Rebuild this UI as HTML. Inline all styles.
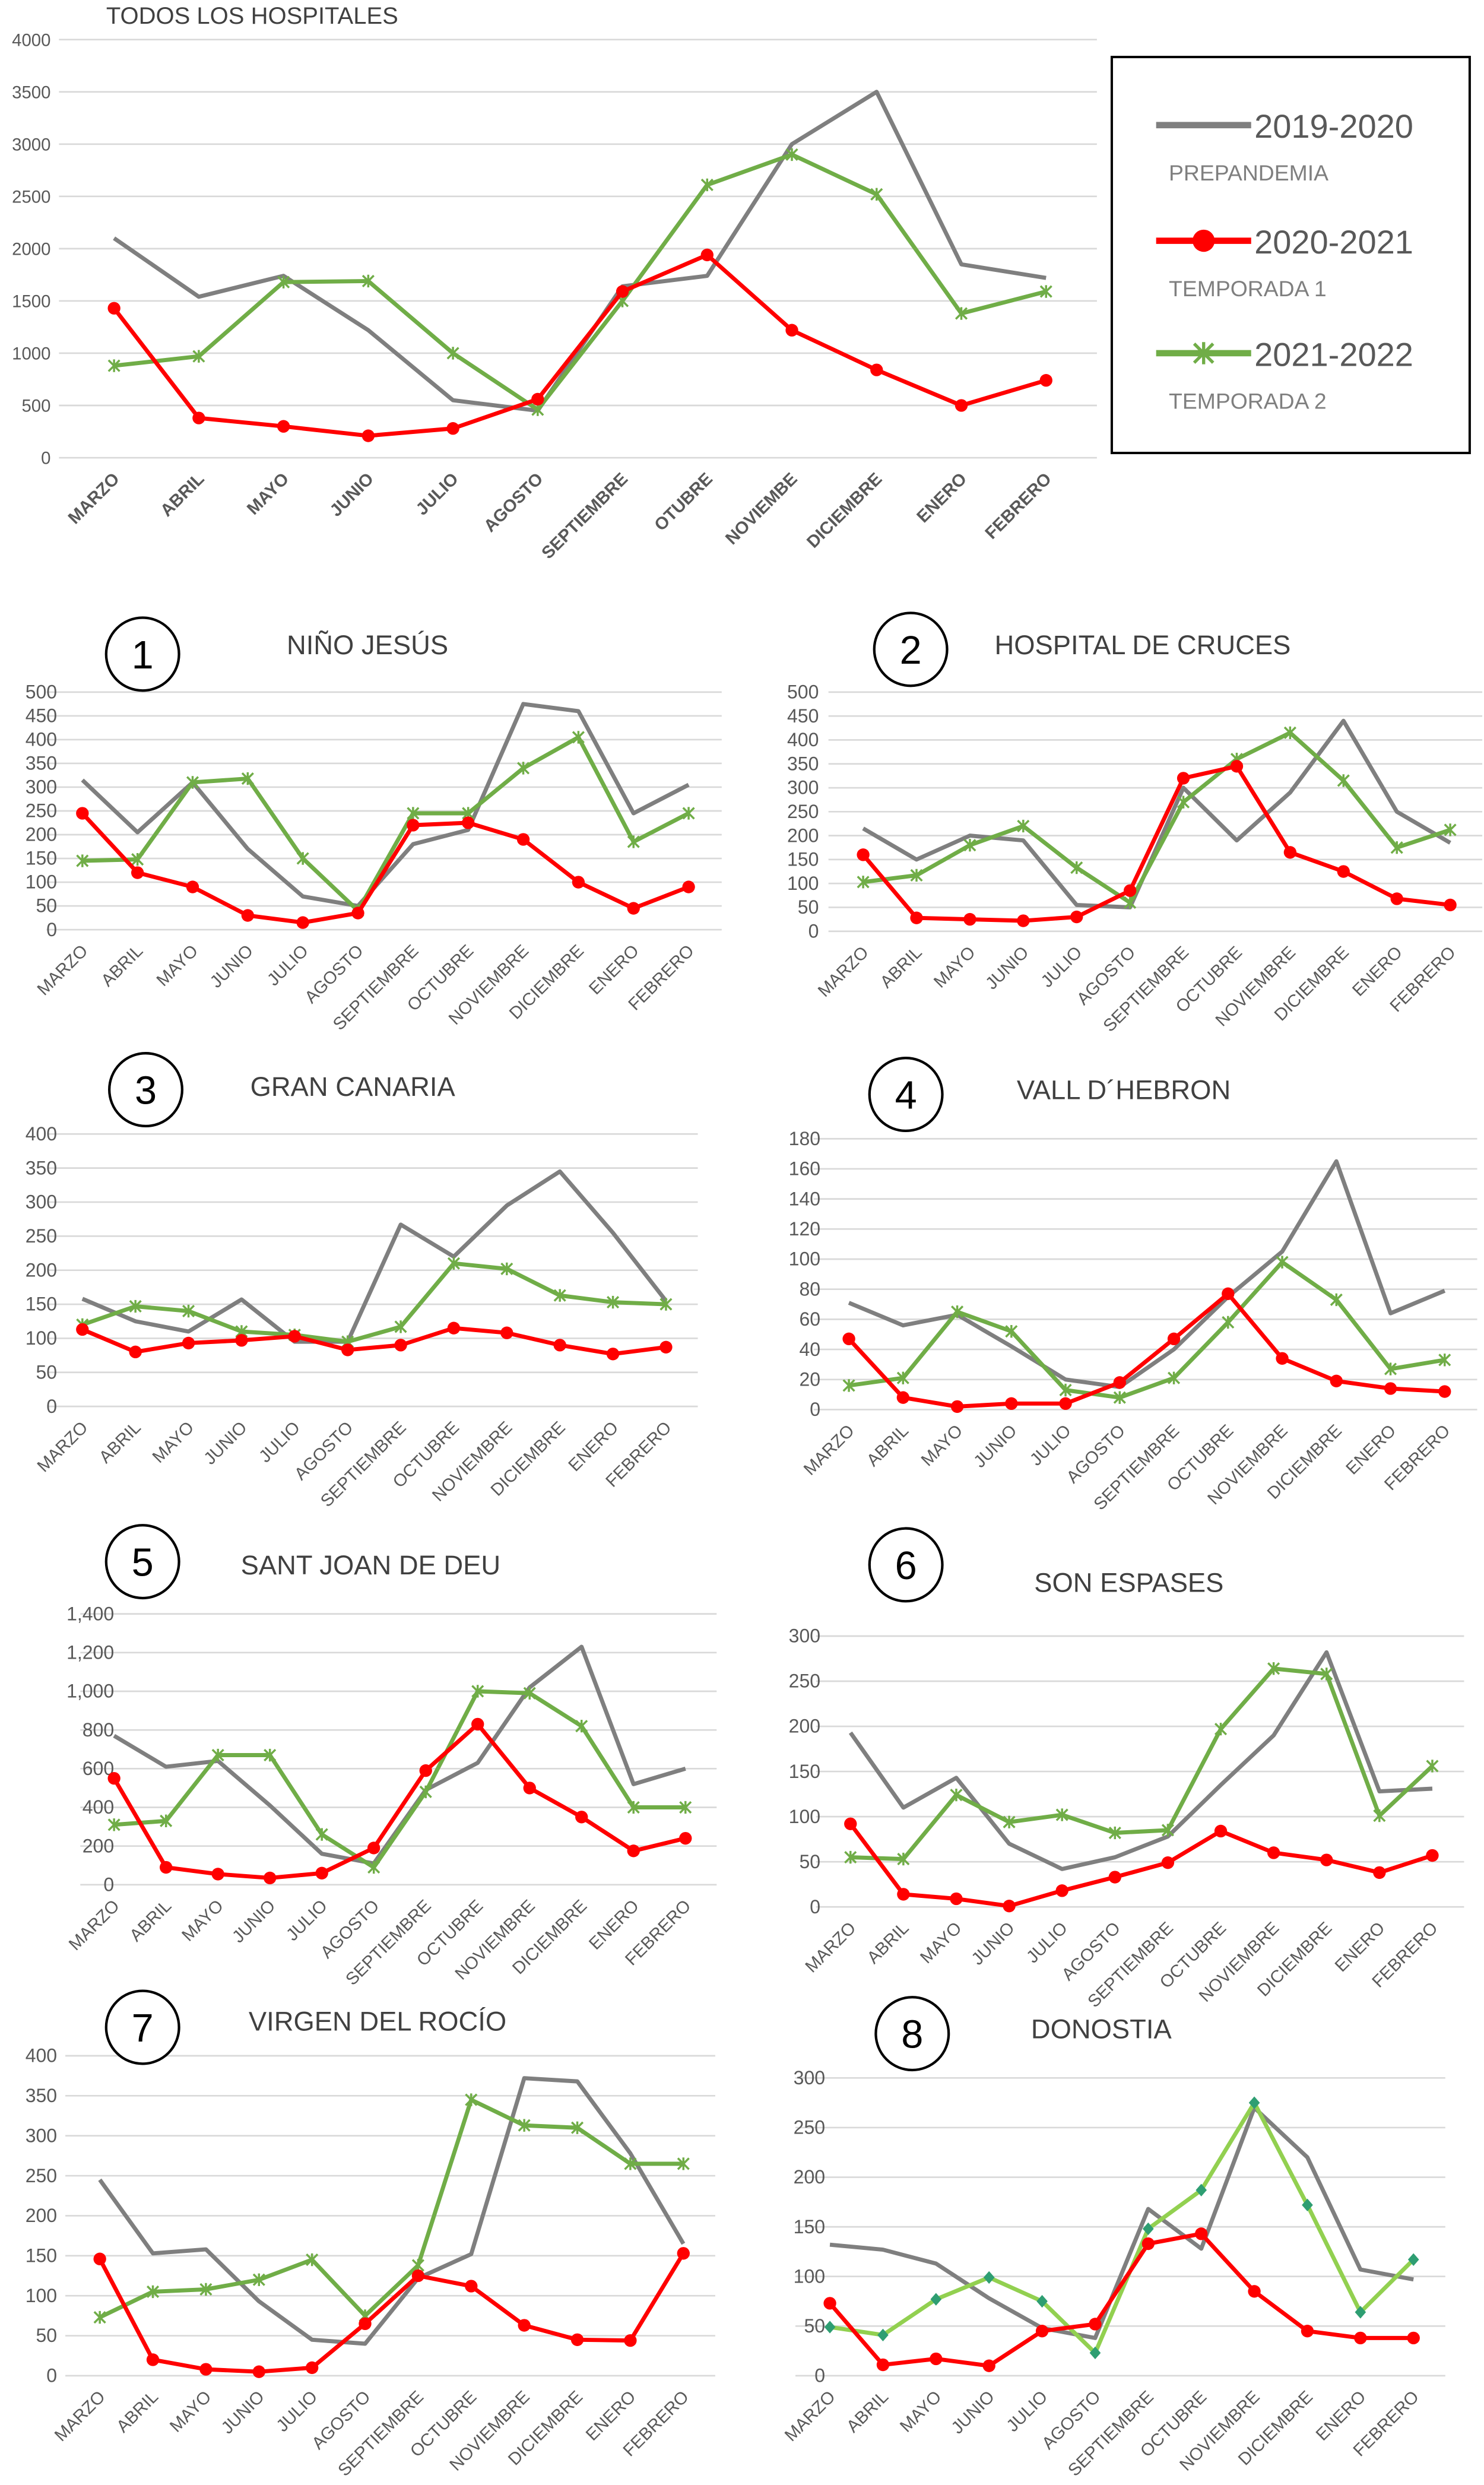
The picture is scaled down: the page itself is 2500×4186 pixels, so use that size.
<!DOCTYPE html>
<html><head><meta charset="utf-8"><style>
html,body{margin:0;padding:0;background:#fff}
svg{display:block}
text{font-family:"Liberation Sans",sans-serif}
</style></head><body>
<svg id="root" width="2500" height="4186" viewBox="0 0 937 1569" xmlns="http://www.w3.org/2000/svg"></svg>
<script>
const months=["MARZO","ABRIL","MAYO","JUNIO","JULIO","AGOSTO","SEPTIEMBRE","OTUBRE","NOVIEMBE","DICIEMBRE","ENERO","FEBRERO"];
const months2=["MARZO","ABRIL","MAYO","JUNIO","JULIO","AGOSTO","SEPTIEMBRE","OCTUBRE","NOVIEMBRE","DICIEMBRE","ENERO","FEBRERO"];
const mainGray=[2100,1540,1740,1220,550,450,1640,1740,3000,3500,1850,1720];
const mainRed=[1430,380,300,210,280,560,1590,1940,1220,840,500,740];
const mainGreen=[880,970,1680,1690,1000,460,1500,2610,2900,2520,1380,1590];
const c1Gray=[315,205,310,170,70,50,180,210,475,460,245,305];
const c1Red=[245,120,90,30,15,35,220,225,190,100,45,90];
const c1Green=[145,148,310,318,150,40,245,245,340,405,185,245];
const c2Gray=[215,150,200,190,55,50,300,190,290,440,250,185];
const c2Red=[160,28,25,22,30,85,320,345,165,125,68,55];
const c2Green=[103,117,180,220,133,60,270,360,415,315,175,212];
const c3Gray=[158,125,110,157,95,95,267,220,295,345,255,155];
const c3Red=[113,80,93,97,103,83,90,115,108,90,77,87];
const c3Green=[120,147,140,110,105,95,117,210,202,163,153,150];
const c4Gray=[71,56,63,42,20,15,40,75,105,165,64,79];
const c4Red=[47,8,2,4,4,18,47,77,34,19,14,12];
const c4Green=[16,21,65,52,13,8,21,58,98,73,27,33];
const c5Gray=[770,610,640,410,160,110,490,630,1020,1230,520,600];
const c5Red=[550,90,55,35,60,190,590,830,500,350,175,240];
const c5Green=[310,330,670,670,260,90,480,1000,990,820,400,400];
const c6Gray=[193,110,143,70,42,55,78,135,190,282,128,131];
const c6Red=[92,14,9,1,18,33,49,84,60,52,38,57];
const c6Green=[55,53,124,94,102,82,85,197,264,258,101,156];
const c7Gray=[245,153,158,93,45,40,122,152,372,368,278,165];
const c7Red=[146,20,8,5,10,65,125,112,63,45,44,153];
const c7Green=[73,105,108,120,145,75,138,345,313,310,265,265];
const c8Gray=[132,127,113,78,48,38,168,128,270,220,107,97];
const c8Red=[73,11,17,10,45,52,133,143,85,45,38,38];
const c8Green=[49,41,77,99,75,23,148,187,275,172,64,117];

const NS="http://www.w3.org/2000/svg";
const root=document.getElementById('root');
function mk(tag,attrs,parent){const e=document.createElementNS(NS,tag);for(const k in attrs)e.setAttribute(k,attrs[k]);(parent||root).appendChild(e);return e;}

function chart(o){
  const g=mk('g',{});
  
  
  const X=i=>o.x0+i*o.dx;
  const Y=v=>o.yb-(v/o.max)*(o.yb-o.yt);
  const gl=o.x0-o.dx*0.65, gr=X(11)+o.dx*0.6;
  for(let v=0;v<=o.max+1e-9;v+=o.step){
    const ln=mk('line',{x1:gl,x2:gr,y1:Y(v),y2:Y(v),stroke:'#d9d9d9','stroke-width':1},g);
    
    
    const t=mk('text',{x:o.lx,y:Y(v)+4,'text-anchor':'end','font-size':o.fs,fill:'#595959'},g);
    t.textContent=o.fmt?o.fmt(v):String(v);
    
    
  }
  o.cats.forEach((c,i)=>{
    const x=X(i)+4,y=o.yb+14;
    const t=mk('text',{x:x,y:y,'text-anchor':'end','font-size':o.cfs,fill:'#595959','font-weight':o.bold?'bold':'normal',transform:`rotate(-45 ${x} ${y})`},g);
    t.textContent=c;
    
    
  });
  const series=[[o.gray,'#7f7f7f','none','series-2019-2020'],[o.green,o.gcol||'#70ad47',o.gm||'star','series-2021-2022'],[o.red,'#ff0000','circle','series-2020-2021']];
  series.forEach(s=>{
    const pts=s[0].map((v,i)=>X(i)+','+Y(v)).join(' ');
    const pl=mk('polyline',{points:pts,fill:'none',stroke:s[1],'stroke-width':2.6,'stroke-linejoin':'round'},g);
    
    
    s[0].forEach((v,i)=>{
      const x=X(i),y=Y(v);
      if(s[2]==='circle'){
        const m=mk('circle',{cx:x,cy:y,r:4,fill:'#ff0000'},g);
        
        
      }else if(s[2]==='star'){
        const m=mk('path',{d:`M${x-3.5} ${y-3.5}L${x+3.5} ${y+3.5}M${x-3.5} ${y+3.5}L${x+3.5} ${y-3.5}M${x} ${y-4}L${x} ${y+4}`,stroke:s[1],'stroke-width':1.3},g);
        
        
      }else if(s[2]==='diamond'){
        const m=mk('path',{d:`M${x} ${y-4}L${x+3.5} ${y}L${x} ${y+4}L${x-3.5} ${y}Z`,fill:'#2e9e72'},g);
        
        
      }
    });
  });
  if(o.num){
    const c=mk('ellipse',{cx:o.cx,cy:o.cy,rx:23,ry:23,fill:'#fff',stroke:'#000','stroke-width':1.6},g);
    
    
    const n=mk('text',{x:o.cx,y:o.cy+9,'text-anchor':'middle','font-size':25,fill:'#000'},g);
    n.textContent=o.num;
    
    
  }
  const tt=mk('text',{x:o.tx,y:o.ty,'font-size':o.tfs||17,fill:'#404040'},g);
  tt.textContent=o.title;
  
  
}

chart({name:'all-hospitals-chart',cats:months,x0:72,dx:53.5,yb:289,yt:25,max:4000,step:500,lx:32,fs:11,cfs:11,bold:true,gray:mainGray,red:mainRed,green:mainGreen,title:'TODOS LOS HOSPITALES',tx:67,ty:15,tfs:15});
chart({name:'nino-jesus-chart',cats:months2,x0:52,dx:34.8,yb:587,yt:437,max:500,step:50,lx:36,fs:12,cfs:11,gray:c1Gray,red:c1Red,green:c1Green,num:'1',cx:90,cy:413,title:'NIÑO JESÚS',tx:181,ty:413});
chart({name:'cruces-chart',cats:months2,x0:545,dx:33.7,yb:588,yt:437,max:500,step:50,lx:517,fs:12,cfs:11,gray:c2Gray,red:c2Red,green:c2Green,num:'2',cx:575,cy:410,title:'HOSPITAL DE CRUCES',tx:628,ty:413});
chart({name:'gran-canaria-chart',cats:months2,x0:52,dx:33.5,yb:888,yt:716,max:400,step:50,lx:36,fs:12,cfs:11,gray:c3Gray,red:c3Red,green:c3Green,num:'3',cx:92,cy:688,title:'GRAN CANARIA',tx:158,ty:692});
chart({name:'vall-hebron-chart',cats:months2,x0:536,dx:34.2,yb:890,yt:719,max:180,step:20,lx:518,fs:12,cfs:11,gray:c4Gray,red:c4Red,green:c4Green,num:'4',cx:572,cy:691,title:'VALL D´HEBRON',tx:642,ty:694});
chart({name:'sant-joan-chart',cats:months2,x0:72,dx:32.8,yb:1190,yt:1019,max:1400,step:200,lx:72,fs:12,cfs:11,fmt:v=>v.toLocaleString('en-US'),gray:c5Gray,red:c5Red,green:c5Green,num:'5',cx:90,cy:986,title:'SANT JOAN DE DEU',tx:152,ty:994});
chart({name:'son-espases-chart',cats:months2,x0:537,dx:33.4,yb:1204,yt:1033,max:300,step:50,lx:518,fs:12,cfs:11,gray:c6Gray,red:c6Red,green:c6Green,num:'6',cx:572,cy:988,title:'SON ESPASES',tx:653,ty:1005});
chart({name:'virgen-rocio-chart',cats:months2,x0:63,dx:33.5,yb:1500,yt:1298,max:400,step:50,lx:36,fs:12,cfs:11,gray:c7Gray,red:c7Red,green:c7Green,num:'7',cx:90,cy:1280,title:'VIRGEN DEL ROCÍO',tx:157,ty:1282});
chart({name:'donostia-chart',cats:months2,x0:524,dx:33.5,yb:1500,yt:1312,max:300,step:50,lx:521,fs:12,cfs:11,gray:c8Gray,red:c8Red,green:c8Green,gcol:'#92d050',gm:'diamond',num:'8',cx:576,cy:1284,title:'DONOSTIA',tx:651,ty:1287});

const lg=mk('g',{});


const box=mk('rect',{x:702,y:36,width:226,height:250,fill:'#fff',stroke:'#000','stroke-width':1.5},lg);


const ent=[[79,'#7f7f7f','none','2019-2020','PREPANDEMIA'],[152,'#ff0000','circle','2020-2021','TEMPORADA 1'],[223,'#70ad47','star','2021-2022','TEMPORADA 2']];
ent.forEach(e=>{
  const y=e[0];
  const ln=mk('line',{x1:730,x2:790,y1:y,y2:y,stroke:e[1],'stroke-width':4},lg);
  
  
  if(e[2]==='circle'){const c=mk('circle',{cx:760,cy:y,r:7,fill:'#ff0000'},lg);}
  if(e[2]==='star'){const c=mk('path',{d:`M754 ${y-6}L766 ${y+6}M754 ${y+6}L766 ${y-6}M760 ${y-7}L760 ${y+7}`,stroke:'#70ad47','stroke-width':2},lg);}
  const t=mk('text',{x:792,y:y+8,'font-size':21,fill:'#595959'},lg);
  t.textContent=e[3];
  
  
  const s=mk('text',{x:738,y:y+35,'font-size':14,fill:'#7f7f7f'},lg);
  s.textContent=e[4];
  
  
});
</script>
</body></html>
